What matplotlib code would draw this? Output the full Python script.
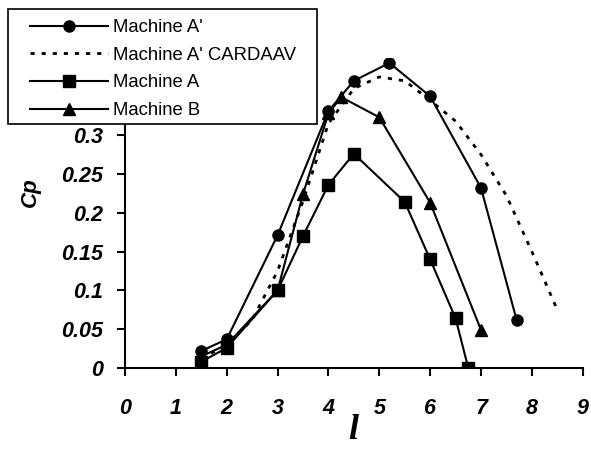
import numpy as np
import matplotlib
matplotlib.use("Agg")
import matplotlib.pyplot as plt
from matplotlib.patches import Rectangle

# Machine A' (circles)
x_ap = [1.5, 2.0, 3.0, 4.0, 4.5, 5.2, 6.0, 7.0, 7.7]
cp_ap = [0.022, 0.037, 0.171, 0.331, 0.370, 0.393, 0.350, 0.232, 0.062]

# Machine A' CARDAAV (dotted)
x_card = [1.5, 2.0, 2.5, 3.0, 3.5, 4.0, 4.5, 5.0, 5.5, 6.0, 6.5, 7.0, 7.5, 8.0, 8.5]
cp_card = [0.012, 0.030, 0.062, 0.125, 0.215, 0.315, 0.360, 0.375, 0.370, 0.345, 0.318, 0.275, 0.222, 0.150, 0.075]

# Machine A (squares)
x_a = [1.5, 2.0, 3.0, 3.5, 4.0, 4.5, 5.5, 6.0, 6.5, 6.75]
cp_a = [0.008, 0.026, 0.100, 0.170, 0.236, 0.276, 0.214, 0.140, 0.064, 0.0]

# Machine B (triangles)
x_b = [1.5, 2.0, 3.0, 3.5, 4.0, 4.25, 5.0, 6.0, 7.0]
cp_b = [0.015, 0.030, 0.100, 0.224, 0.328, 0.349, 0.323, 0.213, 0.049]

yticks = [0, 0.05, 0.1, 0.15, 0.2, 0.25, 0.3, 0.35, 0.4]
# 0.35 and 0.4 sit under the legend box in the reference
ytick_labels = ["0", "0.05", "0.1", "0.15", "0.2", "0.25", "0.3", "", ""]
xticks = list(range(0, 10))

plt.rcParams['font.family'] = ['Liberation Sans', 'DejaVu Sans']

W, H = 591, 453
fig = plt.figure(figsize=(5.91, 4.53), dpi=100)
ax = fig.add_axes([0.2115, 0.1876, 0.7745, 0.6854])

ax.plot(x_ap, cp_ap, color='k', lw=1.5, marker='o', ms=8, label="Machine A'")
ax.plot(x_card, cp_card, color='k', lw=2, linestyle=(0, (1.5, 2.5)), label="Machine A' CARDAAV")
ax.plot(x_a, cp_a, color='k', lw=1.5, marker='s', ms=8, label="Machine A")
ax.plot(x_b, cp_b, color='k', lw=1.5, marker='^', ms=9, label="Machine B")

ax.set_xlim(0, 9)
ax.set_ylim(0, 0.4)
ax.set_xticks(xticks)
ax.set_xticklabels([str(v) for v in xticks])
ax.set_yticks(yticks)
ax.set_yticklabels(ytick_labels)
ax.tick_params(direction='out', length=5.5, width=1.5, labelsize=15.5)
ax.tick_params(axis='x', pad=16)
ax.tick_params(axis='y', pad=10.5)
for lab in ax.get_xticklabels() + ax.get_yticklabels():
    lab.set_fontweight('bold')
    lab.set_fontstyle('italic')

ax.spines['top'].set_visible(False)
ax.spines['right'].set_visible(False)
ax.spines['left'].set_linewidth(1.5)
ax.spines['bottom'].set_linewidth(1.5)

fig.text(0.052, 0.575, "Cp", rotation=90, fontsize=16, fontweight='bold',
         fontstyle='italic', ha='center', va='center')
fig.text(0.597, 0.05, "l", fontsize=26, fontweight='bold', fontstyle='italic',
         family='Liberation Serif', ha='center', va='center')

# legend box (white, black border) covering the top-left corner
box = Rectangle((8 / W, 1 - 124 / H), 309 / W, 115 / H, transform=fig.transFigure,
                facecolor='white', edgecolor='k', lw=1.2, zorder=5)
fig.patches.append(box)

leg = fig.legend(loc='upper left', bbox_to_anchor=(30 / W, 1 - 19 / H), fontsize=13.3,
                 handlelength=4.2, frameon=False, borderpad=0,
                 labelspacing=0.58, handletextpad=0.27, borderaxespad=0)
leg.set_zorder(6)

fig.savefig("out.png", dpi=100)
